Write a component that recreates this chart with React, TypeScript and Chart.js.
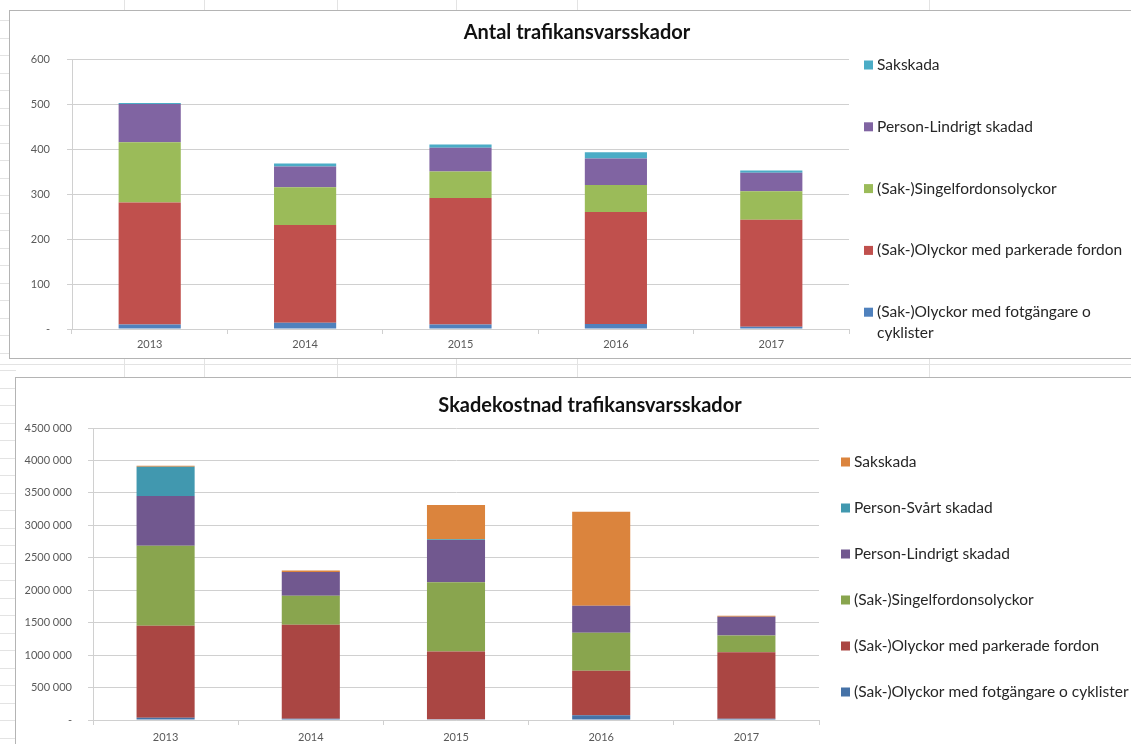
import React, { useEffect, useRef } from "react";
import { Chart, registerables } from "chart.js";

Chart.register(...registerables);

// ---------- data ----------
const years = ["2013", "2014", "2015", "2016", "2017"];

// Chart 1: Antal trafikansvarsskador
const antalLabels = [
  "(Sak-)Olyckor med fotgängare o cyklister",
  "(Sak-)Olyckor med parkerade fordon",
  "(Sak-)Singelfordonsolyckor",
  "Person-Lindrigt skadad",
  "Sakskada",
];
const antalFotgangare = [10, 14, 10, 11, 5];
const antalParkerade = [271, 217, 281, 249, 238];
const antalSingel = [134, 84, 59, 60, 63];
const antalLindrigt = [85, 46, 53, 59, 41];
const antalSakskada = [2, 7, 7, 14, 5];
const antalColors = ["#4F81BD", "#C0504D", "#9BBB59", "#8064A2", "#4BACC6"];
const antalTicks = [0, 100, 200, 300, 400, 500, 600];

// Chart 2: Skadekostnad trafikansvarsskador
const kostLabels = [
  "(Sak-)Olyckor med fotgängare o cyklister",
  "(Sak-)Olyckor med parkerade fordon",
  "(Sak-)Singelfordonsolyckor",
  "Person-Lindrigt skadad",
  "Person-Svårt skadad",
  "Sakskada",
];
const kostFotgangare = [36000, 20000, 10000, 72000, 20000];
const kostParkerade = [1415000, 1447000, 1046000, 687000, 1026000];
const kostSingel = [1236000, 446000, 1067000, 585000, 257000];
const kostLindrigt = [764000, 369000, 651000, 415000, 287000];
const kostSvart = [452000, 0, 10000, 0, 0];
const kostSakskada = [15000, 21000, 528000, 1451000, 15000];
const kostColors = ["#4572A7", "#AA4643", "#89A54E", "#71588F", "#4198AF", "#DB843D"];
const kostTicks = [0, 500000, 1000000, 1500000, 2000000, 2500000, 3000000, 3500000, 4000000, 4500000];

const titleAntal = "Antal trafikansvarsskador";
const titleKost = "Skadekostnad trafikansvarsskador";

// ---------- helpers ----------
function fmtKost(v: number): string {
  if (v === 0) return "-";
  if (v < 1000) return String(v);
  const th = Math.floor(v / 1000);
  const rest = String(v % 1000).padStart(3, "0");
  return `${th} ${rest}`;
}

const overlayPlugin = {
  id: "overlay",
  afterDraw(chart: any, _args: any, opts: any) {
    const ctx = chart.ctx as CanvasRenderingContext2D;
    ctx.save();
    ctx.textBaseline = "middle";
    ctx.textAlign = "center";
    ctx.fillStyle = "#111111";
    ctx.font = opts.titleFont;
    ctx.fillText(opts.title, opts.titleX, opts.titleY);

    ctx.font = opts.legendFont;
    ctx.textAlign = "left";
    const ds = chart.data.datasets;
    const order = ds.map((_d: any, i: number) => i).reverse();
    order.forEach((di: number, k: number) => {
      const y = opts.legendTop + k * opts.legendGap;
      ctx.fillStyle = ds[di].backgroundColor;
      ctx.fillRect(opts.boxX, y - opts.boxSize / 2, opts.boxSize, opts.boxSize);
      ctx.fillStyle = "#262626";
      // word wrap
      const words = String(ds[di].label).split(" ");
      const lines: string[] = [];
      let cur = "";
      words.forEach((w) => {
        const test = cur ? cur + " " + w : w;
        if (ctx.measureText(test).width > opts.maxWidth && cur) {
          lines.push(cur);
          cur = w;
        } else cur = test;
      });
      if (cur) lines.push(cur);
      lines.forEach((ln, li) => {
        ctx.fillText(ln, opts.textX, y + li * opts.lineHeight);
      });
    });
    ctx.restore();
  },
};

function makeDatasets(labels: string[], series: number[][], colors: string[]) {
  return series.map((d, i) => ({
    label: labels[i],
    data: d,
    backgroundColor: colors[i],
    borderWidth: 0,
    barPercentage: 0.4,
    categoryPercentage: 1,
  }));
}

function ChartBox(props: {
  width: number;
  height: number;
  config: any;
}) {
  const ref = useRef<HTMLCanvasElement | null>(null);
  useEffect(() => {
    if (!ref.current) return;
    const chart = new Chart(ref.current, props.config);
    return () => chart.destroy();
  }, []);
  return (
    <canvas
      ref={ref}
      width={props.width}
      height={props.height}
      style={{ width: props.width, height: props.height, display: "block" }}
    />
  );
}

const gridColor = "#d0d0d0";
const tickColor = "#595959";

function buildConfig(o: {
  labels: string[];
  series: number[][];
  colors: string[];
  ticks: number[];
  fmt: (v: number) => string;
  yWidth: number;
  xHeight: number;
  padTop: number;
  padRight: number;
  yPad: number;
  xPad: number;
  overlay: any;
}) {
  return {
    type: "bar",
    data: {
      labels: years,
      datasets: makeDatasets(o.labels, o.series, o.colors),
    },
    plugins: [overlayPlugin],
    options: {
      responsive: false,
      animation: false,
      devicePixelRatio: 1,
      layout: { padding: { left: 0, top: o.padTop, right: o.padRight, bottom: 0 } },
      plugins: {
        legend: { display: false },
        title: { display: false },
        tooltip: { enabled: false },
        overlay: o.overlay,
      },
      scales: {
        x: {
          stacked: true,
          grid: {
            offset: true,
            drawOnChartArea: false,
            drawTicks: true,
            tickLength: 5,
            color: gridColor,
          },
          border: { display: true, color: gridColor, width: 1 },
          ticks: { color: tickColor, font: { family: "Lato", size: 11 }, padding: o.xPad },
          afterFit(scale: any) {
            scale.height = o.xHeight;
          },
        },
        y: {
          stacked: true,
          min: o.ticks[0],
          max: o.ticks[o.ticks.length - 1],
          afterBuildTicks(scale: any) {
            scale.ticks = o.ticks.map((v) => ({ value: v }));
          },
          grid: { color: gridColor, tickLength: 5, drawTicks: true },
          border: { display: true, color: gridColor, width: 1 },
          ticks: {
            color: tickColor,
            font: { family: "Lato", size: 11 },
            padding: o.yPad,
            callback: (v: any) => o.fmt(Number(v)),
          },
          afterFit(scale: any) {
            scale.width = o.yWidth;
          },
        },
      },
    },
  };
}

const configAntal = buildConfig({
  labels: antalLabels,
  series: [antalFotgangare, antalParkerade, antalSingel, antalLindrigt, antalSakskada],
  colors: antalColors,
  ticks: antalTicks,
  fmt: (v) => (v === 0 ? "-" : String(v)),
  yWidth: 62,
  xHeight: 29,
  padTop: 48,
  padRight: 283,
  yPad: 17,
  xPad: 4,
  overlay: {
    title: titleAntal,
    titleFont: "bold 20px Lato",
    titleX: 567,
    titleY: 22,
    legendFont: "15.5px Lato",
    legendTop: 54,
    legendGap: 61.8,
    boxX: 854,
    boxSize: 9,
    textX: 867,
    maxWidth: 252,
    lineHeight: 21,
  },
});

const configKost = buildConfig({
  labels: kostLabels,
  series: [kostFotgangare, kostParkerade, kostSingel, kostLindrigt, kostSvart, kostSakskada],
  colors: kostColors,
  ticks: kostTicks,
  fmt: fmtKost,
  yWidth: 77,
  xHeight: 24,
  padTop: 50,
  padRight: 313,
  yPad: 16,
  xPad: 6,
  overlay: {
    title: titleKost,
    titleFont: "bold 20px Lato",
    titleX: 574,
    titleY: 28,
    legendFont: "15.5px Lato",
    legendTop: 84,
    legendGap: 46,
    boxX: 825,
    boxSize: 9,
    textX: 838,
    maxWidth: 290,
    lineHeight: 20,
  },
});

const sheetCols = [124, 204, 337, 456, 577, 929];
const sheetLine = "#e3e3e3";
const chartBorder = "#b4b4b4";

export default function App() {
  useEffect(() => {
    document.body.style.margin = "0";
    document.body.style.background = "#ffffff";
  }, []);
  const rowMarks: number[] = [];
  for (let y = 20; y < 744; y += 17.5) rowMarks.push(Math.round(y));
  return (
    <div
      style={{
        position: "fixed",
        left: 0,
        top: 0,
        width: 1131,
        height: 744,
        overflow: "hidden",
        background: "#ffffff",
      }}
    >
      {/* spreadsheet background lines */}
      {sheetCols.map((x) => (
        <div key={"c" + x} style={{ position: "absolute", left: x, top: 0, width: 1, height: 744, background: sheetLine }} />
      ))}
      <div style={{ position: "absolute", left: 0, top: 364, width: 1131, height: 1, background: sheetLine }} />
      {rowMarks.map((y) => (
        <div key={"r" + y} style={{ position: "absolute", left: 0, top: y, width: 16, height: 1, background: sheetLine }} />
      ))}

      {/* top chart */}
      <div
        style={{
          position: "absolute",
          left: 9,
          top: 10,
          width: 1130,
          height: 347,
          border: `1px solid ${chartBorder}`,
          background: "#ffffff",
        }}
      >
        <ChartBox width={1122} height={347} config={configAntal} />
      </div>

      {/* bottom chart */}
      <div
        style={{
          position: "absolute",
          left: 15,
          top: 377,
          width: 1130,
          height: 380,
          border: `1px solid ${chartBorder}`,
          background: "#ffffff",
        }}
      >
        <ChartBox width={1116} height={366} config={configKost} />
      </div>
    </div>
  );
}
